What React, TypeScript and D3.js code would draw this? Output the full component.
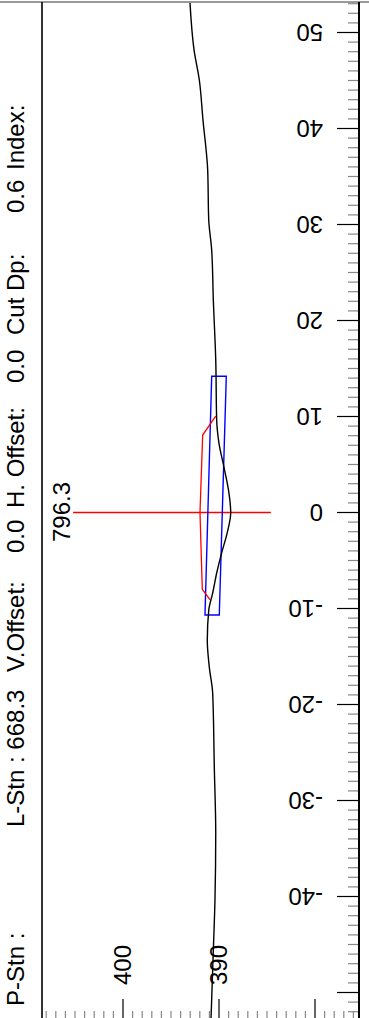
import React from "react";
import * as d3 from "d3";

// Cross-section ground profile: offset (m) vs elevation
const profileOffset = [53.07, 48.2, 45.05, 40.9, 35.7, 30.5, 27.3, 22.1, 15.9, 9.6, 7.2, 4.7, 2.0, 0, -2.1, -4.2, -6.3, -8.4, -10.2, -13.3, -16.1, -18.8, -26.5, -33.4, -40.4, -45.6, -52.7];
const profileElev = [393.02, 392.6, 392.05, 391.67, 391.18, 391.07, 390.76, 390.59, 390.34, 390.24, 390.0, 389.48, 388.96, 388.78, 389.14, 389.72, 390.24, 390.66, 391.07, 391.22, 391.01, 390.66, 390.49, 390.34, 390.42, 390.59, 390.83];

// Design (red) section
const designOffset = [10.05, 8.07, 0, -8.0, -9.11];
const designElev = [390.34, 391.7, 391.98, 391.74, 390.92];

// Blue box (cut section)
const boxOffset = [14.2, 14.2, -10.68, -10.68];
const boxElev = [390.76, 389.24, 389.97, 391.46];

// Red marker line at offset 0
const markerElev = [405.2, 384.6];
const markerLabel = "796.3";

const offsetTicks = [-50, -40, -30, -20, -10, 0, 10, 20, 30, 40, 50];
const offsetLabels = ["", "-40", "-30", "-20", "-10", "0", "10", "20", "30", "40", "50"];
const elevTicks = [400, 390, 380];
const elevLabels = ["400", "390", ""];

const headerTexts = ["P-Stn :", "L-Stn : 668.3", "V.Offset:", "0.0", "H. Offset:", "0.0", "Cut Dp:", "0.6", "Index:"];
const headerPos = [1006, 827, 672, 553, 508, 383, 335, 213, 170];

const W = 369;
const H = 1018;
const FONT = "Liberation Sans, Arial, Helvetica, sans-serif";

export default function App() {
  const y = d3.scaleLinear().domain([-50, 50]).range([992.5, 32.5]);
  const x = d3.scaleLinear().domain([400, 390]).range([123, 219]);

  const axisX = 359;
  const leftX = 42;

  const line = d3
    .line<[number, number]>()
    .x((d) => x(d[1]))
    .y((d) => y(d[0]))
    .curve(d3.curveMonotoneY);
  const poly = d3
    .line<[number, number]>()
    .x((d) => x(d[1]))
    .y((d) => y(d[0]));

  const profile = profileOffset.map((o, i) => [o, profileElev[i]] as [number, number]);
  const design = designOffset.map((o, i) => [o, designElev[i]] as [number, number]);
  const box = boxOffset.map((o, i) => [o, boxElev[i]] as [number, number]);

  const minorOffsets = d3.range(-52, 54).filter((v) => v % 10 !== 0);
  const minorElev = d3.range(376, 409).filter((v) => v % 10 !== 0);

  return (
    <svg
      width={W}
      height={H}
      style={{ position: "absolute", left: 0, top: 0, background: "#fff" }}
      fontFamily={FONT}
    >
      <defs>
        <clipPath id="plot">
          <rect x={leftX} y={3} width={axisX - leftX} height={H} />
        </clipPath>
      </defs>
      <rect x={0} y={0} width={W} height={H} fill="#fff" />
      {/* top border */}
      <line x1={0} x2={W} y1={2} y2={2} stroke="#777" strokeWidth={1.5} />
      {/* left separator */}
      <line x1={leftX} x2={leftX} y1={2} y2={H} stroke="#000" strokeWidth={1.6} />

      {/* header texts */}
      {headerTexts.map((t, i) => (
        <text
          key={"h" + i}
          transform={`translate(16,${headerPos[i]}) rotate(-90)`}
          dy="0.35em"
          fontSize={24}
          textAnchor="start"
          fill="#000"
        >
          {t}
        </text>
      ))}

      {/* right axis */}
      {minorOffsets.map((v) => (
        <line key={"mo" + v} x1={348} x2={axisX} y1={y(v)} y2={y(v)} stroke="#888" strokeWidth={1.2} />
      ))}
      {offsetTicks.map((v, i) => (
        <g key={"ot" + v}>
          <line x1={337} x2={axisX} y1={y(v)} y2={y(v)} stroke="#000" strokeWidth={1.2} />
          <text
            transform={`translate(323,${y(v)}) rotate(180)`}
            dy="0.35em"
            fontSize={24}
            textAnchor="start"
            fill="#000"
          >
            {offsetLabels[i]}
          </text>
        </g>
      ))}
      <line x1={axisX} x2={axisX} y1={2} y2={H} stroke="#000" strokeWidth={2} />

      {/* bottom axis */}
      {minorElev.map((v) => (
        <line key={"me" + v} x1={x(v)} x2={x(v)} y1={1011} y2={H} stroke="#888" strokeWidth={1.2} />
      ))}
      {elevTicks.map((v, i) => (
        <g key={"et" + v}>
          <line x1={x(v)} x2={x(v)} y1={999} y2={H} stroke="#000" strokeWidth={1.2} />
          <text
            transform={`translate(${x(v)},985) rotate(-90)`}
            dy="0.35em"
            fontSize={24}
            textAnchor="start"
            fill="#000"
          >
            {elevLabels[i]}
          </text>
        </g>
      ))}

      <g clipPath="url(#plot)">
        {/* red marker line */}
        <line
          x1={x(markerElev[0])}
          x2={x(markerElev[1])}
          y1={y(0)}
          y2={y(0)}
          stroke="#f00"
          strokeWidth={1.3}
        />
        {/* blue box */}
        <path d={poly(box)! + "Z"} fill="none" stroke="#00f" strokeWidth={1.4} />
        {/* red design */}
        <path d={poly(design)!} fill="none" stroke="#f00" strokeWidth={1.3} />
        {/* ground profile */}
        <path d={line(profile)!} fill="none" stroke="#000" strokeWidth={1.4} />
      </g>

      <text
        transform={`translate(62,542) rotate(-90)`}
        dy="0.35em"
        fontSize={24}
        textAnchor="start"
        fill="#000"
      >
        {markerLabel}
      </text>
    </svg>
  );
}
